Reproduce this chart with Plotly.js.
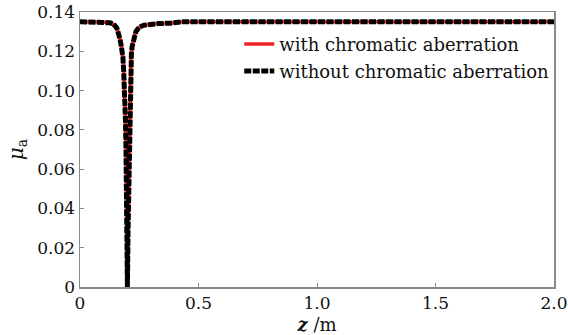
<!DOCTYPE html>
<html>
<head>
<meta charset="utf-8">
<script src="https://cdn.plot.ly/plotly-3.0.1.min.js"></script>
<style>html,body{margin:0;padding:0;background:#fff}#chart{width:568px;height:335px}</style>
</head>
<body>
<div id="chart"></div>
<script>
// z positions (m)
const zWith = [0, 0.05, 0.084, 0.11, 0.127, 0.14, 0.148, 0.155, 0.160, 0.165, 0.169, 0.173, 0.177, 0.181, 0.184, 0.187, 0.190, 0.192, 0.194, 0.196, 0.198, 0.199, 0.200, 0.2015, 0.203, 0.2046, 0.207, 0.209, 0.211, 0.213, 0.215, 0.217, 0.220, 0.224, 0.230, 0.236, 0.245, 0.253, 0.270, 0.295, 0.33, 0.38, 0.413, 0.42, 0.43, 0.6, 0.8, 1.0, 1.2, 1.4, 1.6, 1.8, 2.0];
const muWith = [0.1350, 0.1350, 0.1350, 0.1348, 0.1345, 0.1340, 0.1333, 0.1320, 0.1300, 0.1285, 0.1260, 0.1235, 0.1210, 0.1170, 0.1110, 0.1040, 0.0960, 0.0840, 0.0700, 0.0530, 0.0340, 0.0180, 0.0000, 0.0150, 0.0300, 0.0440, 0.0700, 0.0900, 0.1020, 0.1110, 0.1160, 0.1190, 0.1225, 0.1250, 0.1280, 0.1300, 0.1315, 0.1325, 0.1333, 0.1338, 0.1341, 0.1343, 0.1345, 0.1345, 0.1350, 0.1350, 0.1350, 0.1350, 0.1350, 0.1350, 0.1350, 0.1350, 0.1350];
const zWithout = zWith.slice();
const muWithout = muWith.slice();

const seriesNames = ['with chromatic aberration', 'without chromatic aberration'];
const xTickVals = [0, 0.5, 1.0, 1.5, 2.0];
const xTickText = ['0', '0.5', '1.0', '1.5', '2.0'];
const yTickVals = [0, 0.02, 0.04, 0.06, 0.08, 0.10, 0.12, 0.14];
const yTickText = ['0', '0.02', '0.04', '0.06', '0.08', '0.10', '0.12', '0.14'];

const serif = 'DejaVu Serif, Liberation Serif, serif';

const traces = [
  {x: zWith, y: muWith, name: seriesNames[0], mode: 'lines', type: 'scatter',
   line: {color: '#ee2222', width: 3.5}, legend: 'legend'},
  {x: zWithout, y: muWithout, name: seriesNames[1], mode: 'lines', type: 'scatter',
   line: {color: '#000000', width: 5, dash: '7px,1.5px'}, legend: 'legend2'}
];

const axisCommon = {
  showgrid: false, zeroline: false, showline: true, linecolor: '#8a8a8a', linewidth: 1.5,
  mirror: true, ticks: 'inside', ticklen: 4, tickcolor: '#8a8a8a', tickwidth: 1,
  tickfont: {family: serif, size: 17, color: '#111'}
};

const layout = {
  width: 568, height: 335,
  margin: {l: 80, r: 14, t: 12, b: 48},
  paper_bgcolor: '#fff', plot_bgcolor: '#fff',
  showlegend: true,
  xaxis: Object.assign({}, axisCommon, {
    range: [0, 2.0], tickmode: 'array', tickvals: xTickVals, ticktext: xTickText,
    title: {text: '<b><i>z</i></b> /m', font: {family: serif, size: 18, color: '#111'}, standoff: 6}
  }),
  yaxis: Object.assign({}, axisCommon, {
    range: [0, 0.14], tickmode: 'array', tickvals: yTickVals, ticktext: yTickText,
    title: {text: '<i>μ</i><sub>a</sub>', font: {family: serif, size: 20, color: '#111'}, standoff: 8}
  }),
  legend: {x: 0.336, y: 0.883, xanchor: 'left', yanchor: 'middle', bgcolor: 'rgba(0,0,0,0)',
           font: {family: serif, size: 18, color: '#111'}},
  legend2: {x: 0.336, y: 0.784, xanchor: 'left', yanchor: 'middle', bgcolor: 'rgba(0,0,0,0)',
           font: {family: serif, size: 18, color: '#111'}}
};

Plotly.newPlot('chart', traces, layout, {staticPlot: true, displayModeBar: false});
</script>
</body>
</html>
